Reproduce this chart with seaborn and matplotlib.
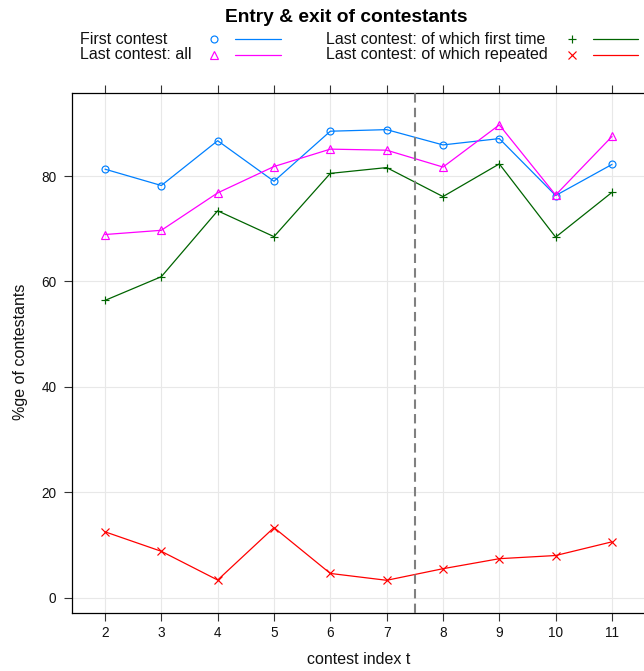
import matplotlib
matplotlib.use("Agg")
import matplotlib.pyplot as plt
from matplotlib.lines import Line2D
import seaborn as sns
import numpy as np

# ---- data ----
contest_index = [2, 3, 4, 5, 6, 7, 8, 9, 10, 11]
first_contest = [81.3, 78.2, 86.7, 79.0, 88.5, 88.8, 85.9, 87.1, 76.3, 82.2]
last_all = [68.9, 69.7, 76.8, 81.8, 85.1, 84.9, 81.7, 89.7, 76.4, 87.5]
last_first_time = [56.4, 60.9, 73.4, 68.5, 80.5, 81.6, 76.1, 82.3, 68.4, 76.9]
last_repeated = [12.5, 8.8, 3.35, 13.3, 4.6, 3.3, 5.5, 7.4, 8.0, 10.6]
series_names = ["First contest", "Last contest: all",
                "Last contest: of which first time", "Last contest: of which repeated"]
series_values = [first_contest, last_all, last_first_time, last_repeated]
y_ticks = [0, 20, 40, 60, 80]
split_at = 7.5
title = "Entry & exit of contestants"
xlabel = "contest index t"
ylabel = "%ge of contestants"

colors = ["#0080ff", "#ff00ff", "#006400", "#ff0000"]
markers = ["o", "^", "+", "x"]
msizes = [5.0, 5.8, 6.4, 5.2]

sns.set_style("white")
plt.rcParams["font.family"] = ["Liberation Sans", "DejaVu Sans"]

W, H = 644, 671
fig = plt.figure(figsize=(W / 100, H / 100), dpi=100)

def fx(x):
    return x / W

def fy(y):
    return 1 - y / H

left, right, top, bottom = 71.7, 645.5, 93.0, 612.5
ax = fig.add_axes([fx(left), fy(bottom), (right - left) / W, (bottom - top) / H])

# grid
for xv in contest_index:
    ax.axvline(xv, color="#e8e8e8", lw=0.8, zorder=0)
for yv in y_ticks:
    ax.axhline(yv, color="#e8e8e8", lw=0.8, zorder=0)

for name, vals, c, m, ms in zip(series_names, series_values, colors, markers, msizes):
    sns.lineplot(x=contest_index, y=vals, ax=ax, color=c, marker=m, ms=ms,
                 mfc="none", mec=c, mew=0.85, lw=0.9, errorbar=None, zorder=3)

ax.axvline(split_at, color="#808080", lw=1.5, dashes=(4.5, 2.5), zorder=4)

ax.set_xlim(1.409, 11.595)
ax.set_ylim(-2.81, 95.75)
ax.set_xticks(contest_index)
ax.set_xticklabels([str(v) for v in contest_index])
ax.set_yticks(y_ticks)
ax.set_yticklabels([str(v) for v in y_ticks])
ax.tick_params(axis="both", direction="out", length=6, width=0.8, color="#333333",
               labelsize=9.8, labelcolor="#111111")
ax.tick_params(axis="x", top=True, bottom=True, labeltop=False, pad=4)
ax.tick_params(axis="y", left=True, right=False, pad=5)
for s in ["left", "bottom", "top"]:
    ax.spines[s].set_visible(True)
    ax.spines[s].set_color("black")
    ax.spines[s].set_linewidth(0.9)
ax.spines["right"].set_visible(False)
ax.set_xlabel("")
ax.set_ylabel("")
ax.grid(False)

# labels
fig.text(fx(359), fy(660), xlabel, ha="center", va="center", fontsize=11.5, color="#111111")
fig.text(fx(21), fy(352), ylabel, ha="center", va="center", rotation=90,
         fontsize=11.5, color="#111111")
fig.text(fx(346), fy(17), title, ha="center", va="center", fontsize=13.8,
         fontweight="bold", color="black")

# legend (manual, lattice style: text, marker, line)
cols = [(80, 214, 235, 281), (326, 572, 593, 638)]
rows = [39, 54.5]
layout = [(0, 0), (0, 1), (1, 0), (1, 1)]
for (ci, ri), name, c, m, ms in zip(layout, series_names, colors, markers, msizes):
    tx, mx, l0, l1 = cols[ci]
    y = rows[ri]
    fig.text(fx(tx), fy(y), name, ha="left", va="center", fontsize=11.5, color="#111111")
    fig.add_artist(Line2D([fx(mx)], [fy(y)], transform=fig.transFigure, marker=m,
                          ms=ms, mfc="none", mec=c, mew=0.85, ls="none"))
    fig.add_artist(Line2D([fx(l0), fx(l1)], [fy(y), fy(y)], transform=fig.transFigure,
                          color=c, lw=0.9))

fig.savefig("out.png", dpi=100)
